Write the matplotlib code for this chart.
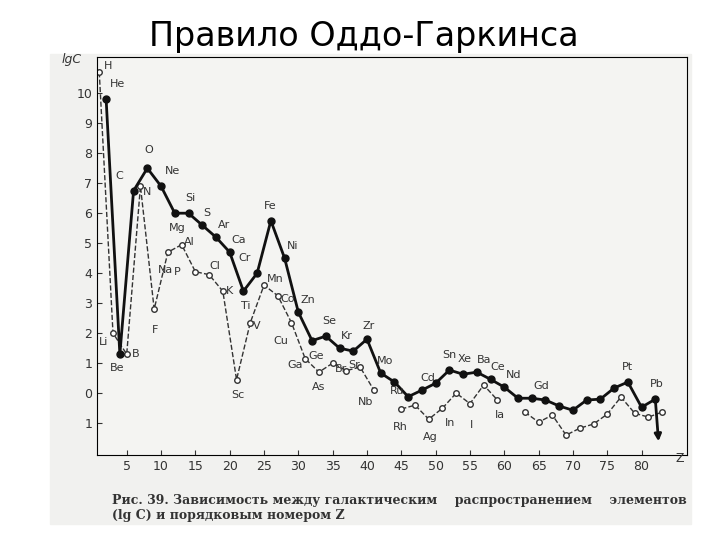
import numpy as np
import matplotlib
matplotlib.use("Agg")
import matplotlib.pyplot as plt

even_z = [2,4,6,8,10,12,14,16,18,20,22,24,26,28,30,32,34,36,38,40,42,44,46,48,50,52,54,56,58,60,62,64,66,68,70,72,74,76,78,80,82]
even_v = [9.8,1.3,6.75,7.5,6.9,6.0,6.0,5.6,5.2,4.7,3.4,4.0,5.75,4.5,2.7,1.75,1.9,1.5,1.4,1.8,0.67,0.37,-0.12,0.1,0.33,0.77,0.63,0.7,0.46,0.2,-0.17,-0.17,-0.23,-0.43,-0.57,-0.23,-0.2,0.17,0.37,-0.47,-0.2]
odd_z = [1,3,5,7,9,11,13,15,17,19,21,23,25,27,29,31,33,35,37,39,41,43,45,47,49,51,53,55,57,59,61,63,65,67,69,71,73,75,77,79,81,83]
odd_v = [10.7,2.0,1.3,6.9,2.8,4.7,4.95,4.05,3.95,3.4,0.45,2.35,3.6,3.25,2.35,1.15,0.7,1.0,0.75,0.87,0.1,np.nan,-0.53,-0.4,-0.87,-0.5,0.0,-0.35,0.27,-0.23,np.nan,-0.63,-0.97,-0.73,-1.4,-1.17,-1.03,-0.7,-0.13,-0.67,-0.8,-0.63]

even_labels = {2:"He",4:"Be",6:"C",8:"O",10:"Ne",12:"Mg",14:"Si",16:"S",18:"Ar",20:"Ca",22:"Ti",24:"Cr",26:"Fe",28:"Ni",30:"Zn",32:"Ge",34:"Se",36:"Kr",40:"Zr",42:"Mo",44:"Ru",48:"Cd",52:"Sn",54:"Xe",56:"Ba",58:"Ce",60:"Nd",64:"Gd",78:"Pt",82:"Pb"}
even_off = {2:(0.6,0.4),4:(-1.5,-0.55),6:(-2.6,0.4),8:(-0.5,0.5),10:(0.5,0.4),12:(-0.8,-0.6),14:(-0.5,0.4),16:(0.2,0.3),18:(0.3,0.3),20:(0.3,0.3),22:(-0.3,-0.6),24:(-2.8,0.4),26:(-1.0,0.4),28:(0.3,0.3),30:(0.3,0.3),32:(-0.6,-0.6),34:(-0.5,0.4),36:(0.2,0.3),40:(-0.6,0.35),42:(-0.6,0.3),44:(-0.6,-0.4),48:(-0.2,0.3),52:(-1.0,0.4),54:(-0.8,0.4),56:(0.0,0.3),58:(0.0,0.3),60:(0.3,0.3),64:(0.3,0.3),78:(-0.8,0.4),80:(0,0),82:(-0.8,0.4)}
odd_labels = {1:"H",3:"Li",5:"B",7:"N",9:"F",11:"Na",13:"Al",15:"P",17:"Cl",19:"K",21:"Sc",23:"V",25:"Mn",27:"Co",29:"Cu",31:"Ga",33:"As",35:"Br",37:"Sr",41:"Nb",45:"Rh",49:"Ag",51:"In",55:"I",59:"Ia"}
odd_off = {1:(0.6,0.1),3:(-2.0,-0.4),5:(0.8,-0.1),7:(0.4,-0.3),9:(-0.4,-0.8),11:(-1.4,-0.7),13:(0.4,0.0),15:(-3.2,-0.1),17:(0.0,0.2),19:(0.5,-0.1),21:(-0.8,-0.6),23:(0.4,-0.2),25:(0.4,0.1),27:(0.4,-0.2),29:(-2.6,-0.7),31:(-2.6,-0.3),33:(-1.0,-0.6),35:(0.3,-0.3),37:(0.3,0.1),41:(-2.3,-0.5),45:(-1.3,-0.7),49:(-0.8,-0.7),51:(0.4,-0.6),55:(0.0,-0.8),59:(-0.3,-0.6)}

fig = plt.figure(figsize=(7.2,5.4), dpi=100)
fig.patch.set_facecolor("white")
fig.add_artist(plt.Rectangle((0.07,0.03),0.89,0.87, transform=fig.transFigure, color="#f1f1ef", zorder=-5))
ax = fig.add_axes([0.135,0.157,0.819,0.737])
ax.set_facecolor("#f4f4f2")
ax.plot(odd_z, odd_v, "--", color="#333", lw=1, marker="o", mfc="white", mec="#333", ms=4)
ax.plot(even_z, even_v, "-", color="#111", lw=2, marker="o", mfc="#111", mec="#111", ms=5)
ax.annotate("", xy=(82.5,-1.7), xytext=(82,-0.2), arrowprops=dict(arrowstyle="-|>", color="#111", lw=2))
for z,l in even_labels.items():
    v = even_v[even_z.index(z)]
    dx,dy = even_off[z]
    ax.text(z+dx, v+dy, l, fontsize=8, color="#333")
for z,l in odd_labels.items():
    v = odd_v[odd_z.index(z)]
    dx,dy = odd_off[z]
    ax.text(z+dx, v+dy, l, fontsize=8, color="#333")
ax.set_xlim(0.7,86.6)
ax.set_ylim(-2.07,11.2)
ax.set_xticks([5,10,15,20,25,30,35,40,45,50,55,60,65,70,75,80])
ax.set_yticks([-1,0,1,2,3,4,5,6,7,8,9,10])
ax.set_yticklabels(["1","0","1","2","3","4","5","6","7","8","9","10"])
ax.tick_params(direction="in", labelsize=9, colors="#333")
ax.spines["top"].set_linewidth(0.8)
ax.text(85,-2.3,"Z", fontsize=9, color="#333")
ax.text(-4.5,11.0,"lgC", fontsize=9, style="italic", color="#333")
fig.text(0.505,0.915,"Правило Оддо-Гаркинса", ha="center", fontsize=24)
fig.text(0.155,0.085,"Рис. 39. Зависимость между галактическим    распространением    элементов\n(lg C) и порядковым номером Z", fontsize=9, family="DejaVu Serif", weight="bold", color="#333", va="top")
fig.savefig("out.png", dpi=100)
